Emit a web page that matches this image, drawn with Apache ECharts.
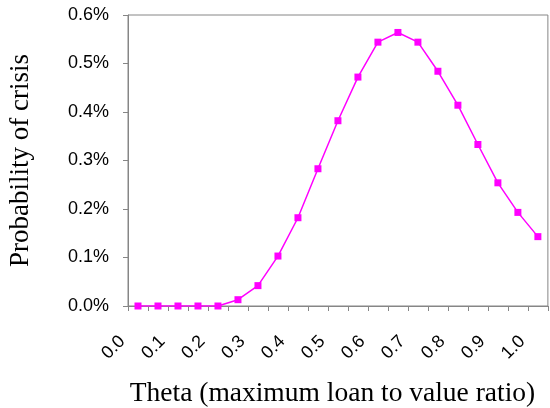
<!DOCTYPE html>
<html>
<head>
<meta charset="utf-8">
<script src="https://cdn.jsdelivr.net/npm/echarts@6/dist/echarts.min.js"></script>
<style>html,body{margin:0;padding:0;background:#fff}#c{width:550px;height:408px}</style>
</head>
<body>
<div id="c"></div>
<script>
// Theta values (categories)
var thetas = ['0.00','0.05','0.10','0.15','0.20','0.25','0.30','0.35','0.40','0.45','0.50',
              '0.55','0.60','0.65','0.70','0.75','0.80','0.85','0.90','0.95','1.00'];
// Probability of crisis (fraction)
var probs = [0, 0, 0, 0, 0, 0.00013, 0.00042, 0.00103, 0.00182, 0.00283, 0.00382,
             0.00472, 0.00544, 0.00564, 0.00544, 0.00484, 0.00414, 0.00333, 0.00254, 0.00193, 0.00143];
// X tick labels
var xTickLabels = ['0.0','0.1','0.2','0.3','0.4','0.5','0.6','0.7','0.8','0.9','1.0'];
// Y ticks
var yMin = 0, yMax = 0.006, yStep = 0.001;
var xTitle = 'Theta (maximum loan to value ratio)';
var yTitle = 'Probability of crisis';

var gray = '#868686';
var chart = echarts.init(document.getElementById('c'), null, {renderer: 'canvas'});
chart.setOption({
  animation: false,
  grid: {left: 128, right: 1, top: 15, bottom: 102, show: true, borderColor: gray, borderWidth: 1, backgroundColor: 'transparent'},
  xAxis: [{
    type: 'category',
    data: thetas,
    position: 'bottom',
    boundaryGap: true,
    axisLine: {lineStyle: {color: gray, width: 1}},
    axisTick: {show: true, interval: 0, length: 5, lineStyle: {color: gray}},
    axisLabel: {show: false},
    splitLine: {show: false}
  }, {
    type: 'value',
    position: 'bottom',
    min: 0, max: 1.05, interval: 0.05,
    axisLine: {show: false},
    axisTick: {show: false},
    splitLine: {show: false},
    axisLabel: {
      rotate: 45, margin: 27, padding: [0, 8, 0, 0], color: '#000', fontFamily: 'Liberation Sans', fontSize: 18,
      formatter: function (v) {
        var k = Math.round(v * 20);
        return (k % 2 === 0 && k / 2 < xTickLabels.length) ? xTickLabels[k / 2] : '';
      }
    }
  }],
  yAxis: {
    type: 'value', min: yMin, max: yMax, interval: yStep,
    axisLine: {show: true, lineStyle: {color: gray}},
    axisTick: {show: true, length: 5, lineStyle: {color: gray}},
    splitLine: {show: false},
    axisLabel: {margin: 19, padding: [3, 0, 0, 0], color: '#000', fontFamily: 'Liberation Sans', fontSize: 18,
      formatter: function (v) { return (v * 100).toFixed(1) + '%'; }}
  },
  graphic: [{
    type: 'text', x: 332.5, y: 393.5,
    style: {text: xTitle, fontFamily: 'Liberation Serif', fontSize: 27.5, fill: '#000',
            align: 'center', verticalAlign: 'middle', textAlign: 'center', textVerticalAlign: 'middle'}
  }, {
    type: 'text', x: 21, y: 160.5, rotation: Math.PI / 2,
    style: {text: yTitle, fontFamily: 'Liberation Serif', fontSize: 27, fill: '#000',
            align: 'center', verticalAlign: 'middle', textAlign: 'center', textVerticalAlign: 'middle'}
  }],
  series: [{
    type: 'line',
    xAxisIndex: 0, yAxisIndex: 0,
    data: probs,
    symbol: 'rect', symbolSize: 7,
    lineStyle: {color: '#ff00ff', width: 1.5},
    itemStyle: {color: '#ff00ff'}
  }]
});
</script>
</body>
</html>
